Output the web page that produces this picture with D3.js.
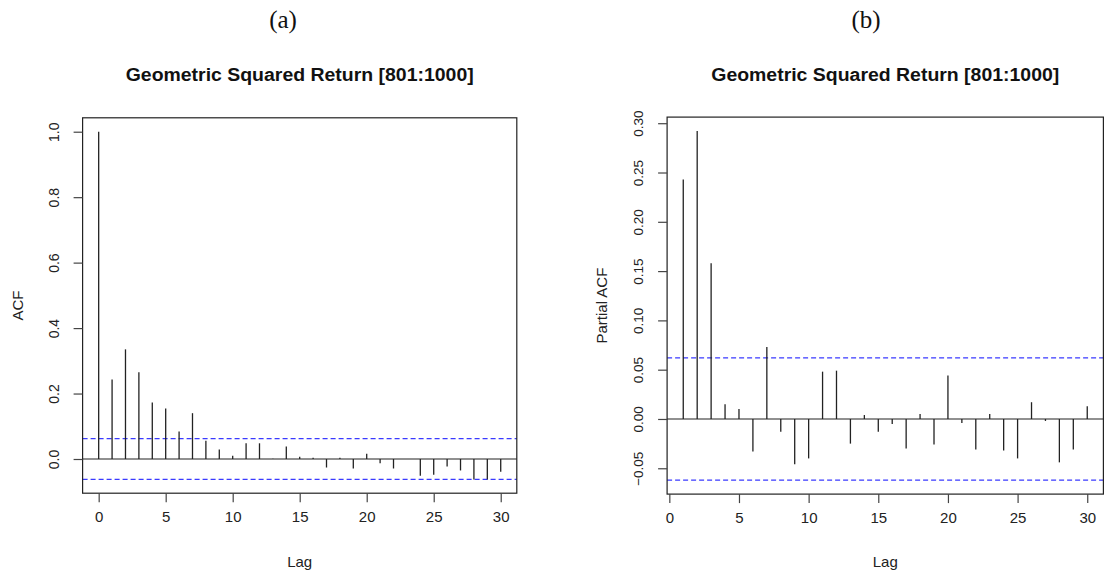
<!DOCTYPE html>
<html>
<head>
<meta charset="utf-8">
<script src="https://cdn.jsdelivr.net/npm/d3@7"></script>
<style>
  html, body { margin: 0; padding: 0; background: #fff; }
  svg { display: block; }
</style>
</head>
<body>
<svg id="chart" width="1107" height="579"></svg>
<script>
// ---- data ----
const acfLags = d3.range(0, 31);
const acfValues = [1.0, 0.243, 0.335, 0.265, 0.173, 0.154, 0.084, 0.140, 0.056, 0.029,
  0.010, 0.048, 0.048, 0.001, 0.038, 0.007, 0.004, -0.026, 0.004, -0.029,
  0.016, -0.013, -0.029, 0.000, -0.051, -0.048, -0.023, -0.035, -0.063, -0.063, -0.039];
const pacfLags = d3.range(1, 31);
const pacfValues = [0.243, 0.292, 0.158, 0.015, 0.010, -0.033, 0.073, -0.013, -0.046, -0.040,
  0.048, 0.049, -0.025, 0.004, -0.013, -0.005, -0.030, 0.005, -0.026, 0.044,
  -0.004, -0.031, 0.005, -0.032, -0.040, 0.017, -0.002, -0.044, -0.031, 0.013];
const confLimit = 0.062;
const xTicks = [0, 5, 10, 15, 20, 25, 30];
const acfYTicks = [0.0, 0.2, 0.4, 0.6, 0.8, 1.0];
const pacfYTicks = [-0.05, 0.00, 0.05, 0.10, 0.15, 0.20, 0.25, 0.30];
const panelLetters = ["(a)", "(b)"];
const titleText = "Geometric Squared Return [801:1000]";
const xLabel = "Lag";
const yLabels = ["ACF", "Partial ACF"];

const svg = d3.select("#chart");
const ink = "#222";

function panel(cfg) {
  const g = svg.append("g");
  const x = d3.scaleLinear().domain(cfg.xDomain).range([cfg.left, cfg.right]);
  const y = d3.scaleLinear().domain(cfg.yDomain).range([cfg.bottom, cfg.top]);
  const cx = (cfg.left + cfg.right) / 2;

  // confidence lines
  [confLimit, -confLimit].forEach(c => {
    g.append("line")
      .attr("x1", cfg.left).attr("x2", cfg.right)
      .attr("y1", y(c)).attr("y2", y(c))
      .attr("stroke", "#3a3aff").attr("stroke-width", 1.2)
      .attr("stroke-dasharray", "5,3");
  });
  // zero line
  g.append("line")
    .attr("x1", cfg.left).attr("x2", cfg.right)
    .attr("y1", y(0)).attr("y2", y(0))
    .attr("stroke", ink).attr("stroke-width", 1.2);
  // bars
  g.selectAll("line.bar").data(cfg.lags).enter().append("line")
    .attr("class", "bar")
    .attr("x1", d => x(d)).attr("x2", d => x(d))
    .attr("y1", y(0)).attr("y2", (d, i) => y(cfg.values[i]))
    .attr("stroke", ink).attr("stroke-width", 1.3);

  // box
  g.append("rect")
    .attr("x", cfg.left).attr("y", cfg.top)
    .attr("width", cfg.right - cfg.left).attr("height", cfg.bottom - cfg.top)
    .attr("fill", "none").attr("stroke", ink).attr("stroke-width", 1.2);

  // x axis
  const xAxis = d3.axisBottom(x).tickValues(xTicks).tickSize(9).tickPadding(9)
    .tickFormat(d3.format("d"));
  const gx = g.append("g").attr("transform", `translate(0,${cfg.bottom})`).call(xAxis);
  gx.select(".domain").remove();
  gx.selectAll(".tick line").attr("stroke", "#444").attr("stroke-width", 1.2);
  gx.selectAll(".tick text").attr("font-family", "Liberation Sans, Arial, sans-serif")
    .attr("font-size", 15).attr("fill", ink);

  // y axis
  const yAxis = d3.axisLeft(y).tickValues(cfg.yTicks).tickSize(9).tickFormat(cfg.yFormat);
  const gy = g.append("g").attr("transform", `translate(${cfg.left},0)`).call(yAxis);
  gy.select(".domain").remove();
  gy.selectAll(".tick line").attr("stroke", "#444").attr("stroke-width", 1.2);
  gy.selectAll(".tick text")
    .attr("font-family", "Liberation Sans, Arial, sans-serif")
    .attr("font-size", cfg.yFont).attr("fill", ink)
    .attr("x", null).attr("dy", null)
    .attr("text-anchor", "middle")
    .attr("transform", `translate(${cfg.yLabelX - cfg.left},0) rotate(-90)`)
    .attr("dominant-baseline", "central");

  // labels
  g.append("text").attr("x", cx).attr("y", 81)
    .attr("text-anchor", "middle").attr("font-family", "Liberation Sans, Arial, sans-serif")
    .attr("font-weight", "bold").attr("font-size", 17.5).attr("fill", "#111")
    .attr("textLength", 348).attr("lengthAdjust", "spacingAndGlyphs")
    .text(titleText);
  g.append("text").attr("x", cfg.letterX).attr("y", 28)
    .attr("text-anchor", "middle").attr("font-family", "Liberation Serif, Times New Roman, serif")
    .attr("font-size", 25).attr("fill", "#111")
    .text(cfg.letter);
  g.append("text").attr("x", cx).attr("y", 567)
    .attr("text-anchor", "middle").attr("font-family", "Liberation Sans, Arial, sans-serif")
    .attr("font-size", 15).attr("fill", ink)
    .text(xLabel);
  g.append("text")
    .attr("transform", `translate(${cfg.yTitleX},${(cfg.top + cfg.bottom) / 2}) rotate(-90)`)
    .attr("text-anchor", "middle").attr("dominant-baseline", "central")
    .attr("font-family", "Liberation Sans, Arial, sans-serif")
    .attr("font-size", 15).attr("fill", ink)
    .text(cfg.yTitle);
}

panel({
  lags: acfLags, values: acfValues,
  xDomain: [-1.2, 31.2], yDomain: [-0.1045, 1.0425],
  left: 82.6, right: 516.8, top: 117.8, bottom: 493.2,
  yTicks: acfYTicks, yFormat: d3.format(".1f"), yFont: 14, yLabelX: 54,
  letter: panelLetters[0], letterX: 283, yTitle: yLabels[0], yTitleX: 17
});
panel({
  lags: pacfLags, values: pacfValues,
  xDomain: [-0.16, 31.16], yDomain: [-0.0762, 0.3062],
  left: 667.1, right: 1103.4, top: 117.1, bottom: 494.1,
  yTicks: pacfYTicks, yFormat: d3.format(".2f"), yFont: 13.5, yLabelX: 638,
  letter: panelLetters[1], letterX: 866, yTitle: yLabels[1], yTitleX: 601
});
</script>
</body>
</html>
